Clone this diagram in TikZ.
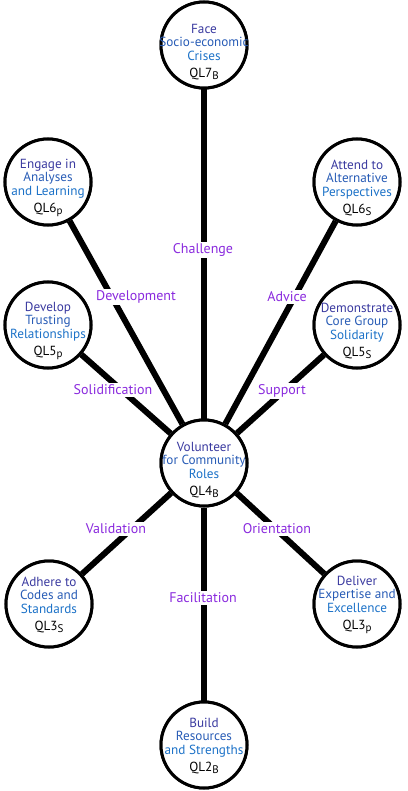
\documentclass[tikz,border=0pt]{standalone}
\usepackage{fontspec}
\setmainfont{PT Sans}
\definecolor{cA}{RGB}{58,58,160}
\definecolor{cB}{RGB}{40,92,182}
\definecolor{cC}{RGB}{28,114,200}
\definecolor{lab}{RGB}{138,42,222}
\newcommand\qsub[1]{\raisebox{-2.5pt}{\fontsize{11}{11}\selectfont #1}}
\newcommand\ctext[4]{{\color{cA}#1}\\[-1.5pt]{\color{cB}#2}\\[-1.5pt]{\color{cC}#3}\\[2pt]{\color{black}#4}}
\begin{document}
\begin{tikzpicture}[x=1pt,y=-1pt,
  circ/.style={circle,draw=black,line width=3pt,minimum size=86pt,inner sep=0pt,fill=white},
  ctxt/.style={align=center,font=\fontsize{13.2}{15}\selectfont,inner sep=0pt},
  link/.style={line width=6pt,black},
  lbl/.style={fill=white,text=lab,font=\fontsize{14}{15}\selectfont,inner sep=1.5pt}]
\useasboundingbox (0,0) rectangle (407,791);
% circles
\node[circ] (top) at (204,45) {};
\node[circ] (eng) at (48,182) {};
\node[circ] (att) at (357,182) {};
\node[circ] (dev) at (48,325) {};
\node[circ] (dem) at (357,325) {};
\node[circ] (vol) at (204,463) {};
\node[circ] (adh) at (49,604) {};
\node[circ] (del) at (357,604) {};
\node[circ] (bui) at (204,745) {};
% connectors
\draw[link] (vol) -- (top);
\draw[link] (vol) -- (eng);
\draw[link] (vol) -- (att);
\draw[link] (vol) -- (dev);
\draw[link] (vol) -- (dem);
\draw[link] (vol) -- (adh);
\draw[link] (vol) -- (del);
\draw[link] (vol) -- (bui);
% redraw circles on top
\node[circ] at (top) {};
\node[circ] at (eng) {};
\node[circ] at (att) {};
\node[circ] at (dev) {};
\node[circ] at (dem) {};
\node[circ] at (vol) {};
\node[circ] at (adh) {};
\node[circ] at (del) {};
\node[circ] at (bui) {};
% circle texts
\node[ctxt] (ttop) at (204,52) {\ctext{Face}{Socio-economic}{Crises}{QL7\qsub{B}}};
\node[ctxt] (teng) at (48,188) {\ctext{Engage in}{Analyses}{and Learning}{QL6\qsub{p}}};
\node[ctxt] (tatt) at (357,188) {\ctext{Attend to}{Alternative}{Perspectives}{QL6\qsub{S}}};
\node[ctxt] (tdev) at (48,331) {\ctext{Develop}{Trusting}{Relationships}{QL5\qsub{p}}};
\node[ctxt] (tdem) at (357,331) {\ctext{Demonstrate}{Core Group}{Solidarity}{QL5\qsub{S}}};
\node[ctxt] (tvol) at (204,470) {\ctext{Volunteer}{for Community}{Roles}{QL4\qsub{B}}};
\node[ctxt] (tadh) at (49,605) {\ctext{Adhere to}{Codes and}{Standards}{QL3\qsub{S}}};
\node[ctxt] (tdel) at (357,605) {\ctext{Deliver}{Expertise and}{Excellence}{QL3\qsub{p}}};
\node[ctxt] (tbui) at (204,746) {\ctext{Build}{Resources}{and Strengths}{QL2\qsub{B}}};
% labels
\node[lbl] (l1) at (203,250) {Challenge};
\node[lbl] (l2) at (136,297) {Development};
\node[lbl] (l3) at (287,297) {Advice};
\node[lbl] (l4) at (113,390) {Solidification};
\node[lbl] (l5) at (282,391) {Support};
\node[lbl] (l6) at (116,529) {Validation};
\node[lbl] (l7) at (277,529) {Orientation};
\node[lbl] (l8) at (203,598) {Facilitation};
\end{tikzpicture}
\end{document}
